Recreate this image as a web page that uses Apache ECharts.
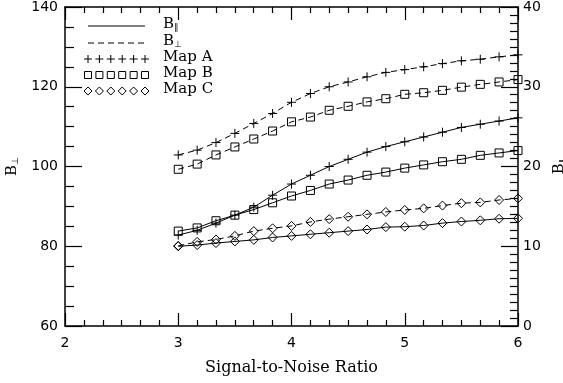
<!DOCTYPE html>
<html>
<head>
<meta charset="utf-8">
<script src="https://cdn.jsdelivr.net/npm/echarts@6/dist/echarts.min.js"></script>
<style>
  html, body { margin: 0; padding: 0; background: #fff; }
  #chart { width: 563px; height: 383px; }
</style>
</head>
<body>
<div id="chart"></div>
<script>
// Signal-to-noise ratio sample points
const snr = [3.0, 3.167, 3.333, 3.5, 3.667, 3.833, 4.0, 4.167, 4.333, 4.5,
             4.667, 4.833, 5.0, 5.167, 5.333, 5.5, 5.667, 5.833, 6.0];

// Perpendicular field strength (left axis)
const perpMapA = [102.9, 104.1, 106.0, 108.3, 110.8, 113.3, 116.1, 118.3, 120.0, 121.2,
                  122.5, 123.6, 124.3, 125.0, 125.8, 126.5, 126.9, 127.5, 128.0];
const perpMapB = [99.3, 100.6, 102.9, 104.9, 106.9, 108.9, 111.2, 112.4, 114.1, 115.1,
                  116.2, 117.0, 118.1, 118.5, 119.1, 119.9, 120.6, 121.2, 121.8];
const perpMapC = [80.1, 81.1, 81.7, 82.6, 83.8, 84.5, 85.1, 86.1, 86.8, 87.4,
                  88.0, 88.6, 89.1, 89.5, 90.2, 90.8, 91.0, 91.6, 92.0];

// Parallel field strength (right axis)
const parMapA = [11.4, 12.0, 12.9, 13.9, 14.9, 16.4, 17.8, 18.9, 20.0, 20.9,
                 21.8, 22.5, 23.1, 23.7, 24.3, 24.9, 25.3, 25.7, 26.1];
const parMapB = [11.9, 12.3, 13.2, 13.9, 14.6, 15.45, 16.3, 17.0, 17.8, 18.3,
                 18.9, 19.3, 19.8, 20.2, 20.6, 20.9, 21.4, 21.7, 22.0];
const parMapC = [10.0, 10.15, 10.4, 10.6, 10.8, 11.1, 11.3, 11.5, 11.7, 11.9,
                 12.1, 12.4, 12.45, 12.6, 12.9, 13.1, 13.25, 13.45, 13.5];

// Axis ranges
const xRange = [2, 6];
const perpRange = [60, 140];
const parRange = [0, 40];

const pair = (vals) => snr.map((x, i) => [x, vals[i]]);

const PLUS = 'path://M0,5L10,5M5,0L5,10';
const NUM_FONT = 'DejaVu Sans';
const TXT_FONT = 'DejaVu Serif';

const markerStyle = { color: 'transparent', borderColor: '#000', borderWidth: 1 };

function makeSeries(name, vals, yIdx, symbol, size, dashed) {
  return {
    name: name,
    type: 'line',
    xAxisIndex: 0,
    yAxisIndex: yIdx,
    data: pair(vals),
    symbol: symbol,
    symbolSize: size,
    showSymbol: true,
    clip: false,
    animation: false,
    lineStyle: { color: '#000', width: 1, type: dashed ? [6, 4] : 'solid' },
    itemStyle: markerStyle,
    emphasis: { disabled: true }
  };
}

const axisLine = { show: true, onZero: false, lineStyle: { color: '#000', width: 1.5 } };

// B with a small subscript symbol
const subRich = {
  b: { fontFamily: TXT_FONT, fontSize: 15, color: '#000', lineHeight: 17 },
  s: { fontFamily: NUM_FONT, fontSize: 9, color: '#000', verticalAlign: 'bottom', lineHeight: 10 }
};

// Legend drawn as graphics: line styles, then marker rows
const legendX0 = 88, legendX1 = 145, legendTextX = 163;
const legendRows = [26, 43, 59, 75, 91];
const legendGraphics = [];
legendGraphics.push({ type: 'line', shape: { x1: legendX0, y1: legendRows[0], x2: legendX1, y2: legendRows[0] },
  style: { stroke: '#000', lineWidth: 1 } });
legendGraphics.push({ type: 'line', shape: { x1: legendX0, y1: legendRows[1], x2: legendX1, y2: legendRows[1] },
  style: { stroke: '#000', lineWidth: 1, lineDash: [6, 4] } });
for (let i = 0; i < 6; i++) {
  const cx = legendX0 + i * (legendX1 - legendX0) / 5;
  legendGraphics.push({ type: 'line', shape: { x1: cx - 4, y1: legendRows[2], x2: cx + 4, y2: legendRows[2] }, style: { stroke: '#000', lineWidth: 1 } });
  legendGraphics.push({ type: 'line', shape: { x1: cx, y1: legendRows[2] - 4, x2: cx, y2: legendRows[2] + 4 }, style: { stroke: '#000', lineWidth: 1 } });
  legendGraphics.push({ type: 'rect', shape: { x: cx - 3.5, y: legendRows[3] - 3.5, width: 7, height: 7 }, style: { fill: 'none', stroke: '#000', lineWidth: 1 } });
  legendGraphics.push({ type: 'polygon', shape: { points: [[cx, legendRows[4] - 4], [cx + 4, legendRows[4]], [cx, legendRows[4] + 4], [cx - 4, legendRows[4]]] }, style: { fill: 'none', stroke: '#000', lineWidth: 1 } });
}
const legendLabels = ['{b|B}{s|∥}', '{b|B}{s|⊥}', 'Map A', 'Map B', 'Map C'];
legendLabels.forEach((t, i) => {
  legendGraphics.push({
    type: 'text', x: legendTextX, y: legendRows[i] - 2,
    style: {
      text: t, fill: '#000', font: '15px ' + TXT_FONT, verticalAlign: 'middle', align: 'left',
      rich: {
        b: { fontFamily: TXT_FONT, fontSize: 15, fill: '#000', lineHeight: 17 },
        s: { fontFamily: NUM_FONT, fontSize: 9, fill: '#000', verticalAlign: 'bottom', lineHeight: 10 }
      }
    }
  });
});

const option = {
  backgroundColor: '#fff',
  animation: false,
  grid: { left: 65, right: 45, top: 7, bottom: 57, containLabel: false, outerBoundsMode: 'none' },
  xAxis: [
    {
      type: 'value', position: 'bottom', min: xRange[0], max: xRange[1], interval: 1,
      name: 'Signal-to-Noise Ratio', nameLocation: 'middle', nameGap: 34,
      nameTextStyle: { fontFamily: TXT_FONT, fontSize: 16, color: '#000' },
      axisLine: axisLine,
      axisTick: { show: true, inside: true, length: 13, lineStyle: { color: '#000', width: 1.2 } },
      minorTick: { show: true, splitNumber: 6, length: 6, lineStyle: { color: '#000', width: 1.2 } },
      axisLabel: { fontFamily: NUM_FONT, fontSize: 14, color: '#000', margin: 10 },
      splitLine: { show: false }
    },
    {
      type: 'value', position: 'top', min: xRange[0], max: xRange[1], interval: 1,
      axisLine: axisLine,
      axisTick: { show: true, inside: true, length: 13, lineStyle: { color: '#000', width: 1.2 } },
      minorTick: { show: true, splitNumber: 6, length: 6, lineStyle: { color: '#000', width: 1.2 } },
      axisLabel: { show: false },
      splitLine: { show: false }
    }
  ],
  yAxis: [
    {
      type: 'value', position: 'left', min: perpRange[0], max: perpRange[1], interval: 20,
      name: '{b|B}{s|⊥}', nameLocation: 'middle', nameRotate: 90, nameGap: 42,
      nameTextStyle: { rich: subRich },
      axisLine: axisLine,
      axisTick: { show: true, inside: true, length: 17, lineStyle: { color: '#000', width: 1.2 } },
      minorTick: { show: true, splitNumber: 4, length: 9, lineStyle: { color: '#000', width: 1.2 } },
      axisLabel: { fontFamily: NUM_FONT, fontSize: 14, color: '#000', margin: 7 },
      splitLine: { show: false }
    },
    {
      type: 'value', position: 'right', min: parRange[0], max: parRange[1], interval: 10,
      name: '{b|B}{s|∥}', nameLocation: 'middle', nameRotate: 90, nameGap: 28,
      nameTextStyle: { rich: subRich },
      axisLine: axisLine,
      axisTick: { show: true, inside: true, length: 17, lineStyle: { color: '#000', width: 1.2 } },
      minorTick: { show: true, splitNumber: 10, length: 8, lineStyle: { color: '#000', width: 1.2 } },
      axisLabel: { fontFamily: NUM_FONT, fontSize: 14, color: '#000', margin: 5 },
      splitLine: { show: false }
    }
  ],
  graphic: legendGraphics,
  series: [
    makeSeries('Map A B⊥', perpMapA, 0, PLUS, 9, true),
    makeSeries('Map B B⊥', perpMapB, 0, 'rect', 8, true),
    makeSeries('Map C B⊥', perpMapC, 0, 'diamond', 9, true),
    makeSeries('Map A B∥', parMapA, 1, PLUS, 9, false),
    makeSeries('Map B B∥', parMapB, 1, 'rect', 8, false),
    makeSeries('Map C B∥', parMapC, 1, 'diamond', 9, false)
  ]
};

const chart = echarts.init(document.getElementById('chart'), null, { renderer: 'canvas' });
chart.setOption(option);
</script>
</body>
</html>
